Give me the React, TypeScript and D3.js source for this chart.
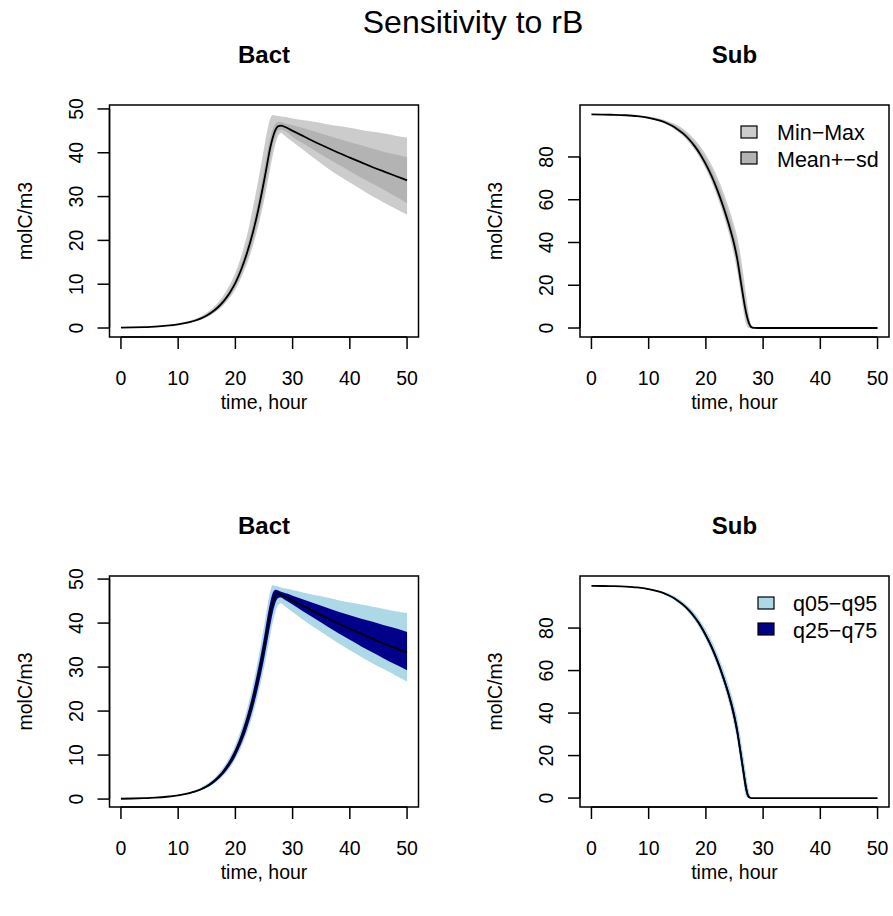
import React from "react";
import * as d3 from "d3";

const TIME = [0, 2, 4, 6, 8, 10, 12, 13, 14, 15, 16, 17, 18, 19, 20, 21, 22, 23, 24, 25, 25.5, 26, 26.5, 27, 27.5, 28, 28.5, 29, 30, 32, 34, 36, 38, 40, 42, 44, 46, 48, 50];

// Bact, top panel (Min-Max, Mean+-sd, mean)
const BACT_MEAN = [0.08, 0.13, 0.21, 0.33, 0.53, 0.85, 1.35, 1.72, 2.2, 2.85, 3.7, 4.8, 6.2, 8.0, 10.3, 13.3, 17.0, 21.5, 27.0, 33.5, 37.0, 40.6, 43.3, 45.2, 46.1, 46.2, 46.0, 45.7, 45.0, 43.7, 42.4, 41.2, 40.0, 38.9, 37.8, 36.7, 35.7, 34.7, 33.7];
const BACT_MAX = [0.10, 0.16, 0.25, 0.40, 0.64, 1.03, 1.65, 2.1, 2.7, 3.5, 4.5, 5.9, 7.6, 9.8, 12.6, 16.3, 21.0, 27.0, 33.8, 41.0, 44.6, 47.4, 48.6, 48.5, 48.4, 48.3, 48.2, 48.1, 47.8, 47.4, 47.0, 46.5, 46.1, 45.7, 45.2, 44.8, 44.4, 43.9, 43.5];
const BACT_MIN = [0.07, 0.11, 0.18, 0.29, 0.46, 0.74, 1.17, 1.48, 1.9, 2.45, 3.2, 4.1, 5.3, 6.9, 8.8, 11.4, 14.6, 18.5, 23.3, 29.0, 32.3, 35.8, 39.2, 42.0, 43.9, 44.5, 44.0, 43.5, 42.5, 40.5, 38.5, 36.6, 34.8, 33.2, 31.6, 30.0, 28.6, 27.2, 25.9];
const BACT_SD_HI = [0.09, 0.14, 0.23, 0.36, 0.58, 0.93, 1.5, 1.9, 2.4, 3.1, 4.05, 5.25, 6.8, 8.8, 11.3, 14.6, 18.6, 23.5, 29.3, 36.2, 39.8, 43.0, 45.3, 46.6, 47.1, 47.0, 46.8, 46.6, 46.3, 45.6, 44.8, 44.0, 43.2, 42.4, 41.7, 40.9, 40.2, 39.6, 39.0];
const BACT_SD_LO = [0.07, 0.12, 0.19, 0.30, 0.48, 0.78, 1.23, 1.56, 2.0, 2.6, 3.35, 4.35, 5.65, 7.3, 9.4, 12.1, 15.5, 19.6, 24.7, 30.8, 34.2, 37.8, 41.2, 43.7, 45.1, 45.3, 45.0, 44.7, 43.6, 42.0, 40.4, 38.8, 37.3, 35.8, 34.3, 32.9, 31.5, 30.0, 28.5];

// Bact, bottom panel (quantiles, median)
const BACT_MED = [0.08, 0.13, 0.21, 0.33, 0.53, 0.86, 1.37, 1.75, 2.23, 2.9, 3.75, 4.9, 6.3, 8.2, 10.6, 13.7, 17.5, 22.1, 27.8, 34.5, 38.2, 41.8, 44.6, 46.3, 46.7, 46.4, 46.1, 45.8, 45.1, 43.8, 42.5, 41.2, 39.9, 38.7, 37.6, 36.4, 35.3, 34.3, 33.3];
const BACT_Q95 = [0.10, 0.16, 0.25, 0.39, 0.63, 1.0, 1.62, 2.05, 2.65, 3.4, 4.4, 5.75, 7.4, 9.6, 12.3, 15.9, 20.3, 25.6, 32.0, 39.3, 43.2, 46.7, 48.6, 48.4, 48.3, 48.1, 47.9, 47.8, 47.5, 46.9, 46.3, 45.8, 45.2, 44.7, 44.2, 43.7, 43.2, 42.7, 42.3];
const BACT_Q75 = [0.09, 0.14, 0.23, 0.36, 0.58, 0.93, 1.5, 1.9, 2.42, 3.15, 4.1, 5.3, 6.9, 8.9, 11.5, 14.8, 18.9, 23.9, 29.9, 36.8, 40.7, 44.2, 46.8, 47.6, 47.4, 47.1, 46.9, 46.7, 46.2, 45.3, 44.4, 43.5, 42.6, 41.8, 41.0, 40.3, 39.5, 38.8, 38.0];
const BACT_Q25 = [0.075, 0.12, 0.19, 0.30, 0.49, 0.79, 1.26, 1.6, 2.05, 2.65, 3.45, 4.5, 5.8, 7.5, 9.7, 12.5, 16.0, 20.3, 25.6, 31.8, 35.3, 38.9, 42.2, 44.6, 45.7, 45.8, 45.4, 45.0, 44.2, 42.5, 40.9, 39.3, 37.7, 36.2, 34.7, 33.3, 31.9, 30.6, 29.3];
const BACT_Q05 = [0.07, 0.11, 0.18, 0.29, 0.46, 0.75, 1.19, 1.5, 1.93, 2.5, 3.25, 4.2, 5.45, 7.05, 9.1, 11.7, 15.0, 19.0, 24.0, 29.8, 33.1, 36.6, 40.0, 42.6, 44.1, 44.5, 44.0, 43.5, 42.5, 40.6, 38.8, 37.1, 35.4, 33.8, 32.3, 30.8, 29.5, 28.1, 26.7];

// Sub, top panel
const SUB_MEAN = [99.9, 99.8, 99.7, 99.5, 99.1, 98.3, 97.0, 96.0, 94.7, 93.0, 91.0, 88.4, 85.2, 81.3, 76.5, 71.0, 64.5, 57.0, 48.5, 38.5, 32.0, 23.5, 15.0, 7.5, 2.5, 0.3, 0.05, 0.02, 0.01, 0.01, 0.01, 0.01, 0.01, 0.01, 0.01, 0.01, 0.01, 0.01, 0.01];
const SUB_MAX = [99.9, 99.85, 99.78, 99.65, 99.4, 98.9, 97.9, 97.1, 96.1, 94.9, 93.2, 91.0, 88.3, 85.0, 81.0, 76.2, 70.5, 64.0, 56.3, 47.5, 42.3, 35.0, 26.0, 16.0, 6.5, 1.0, 0.1, 0.05, 0.02, 0.02, 0.02, 0.02, 0.02, 0.02, 0.02, 0.02, 0.02, 0.02, 0.02];
const SUB_MIN = [99.9, 99.75, 99.6, 99.4, 98.9, 98.0, 96.5, 95.4, 93.9, 92.0, 89.8, 86.9, 83.5, 79.3, 74.2, 68.3, 61.3, 53.3, 44.3, 33.0, 26.0, 17.5, 9.0, 2.0, 0, 0, 0, 0, 0, 0, 0, 0, 0, 0, 0, 0, 0, 0, 0];
const SUB_SD_HI = [99.9, 99.83, 99.75, 99.6, 99.28, 98.65, 97.5, 96.6, 95.45, 94.0, 92.15, 89.8, 86.9, 83.3, 79.0, 73.9, 67.9, 60.9, 52.8, 43.3, 37.5, 29.5, 20.5, 11.5, 4.2, 0.6, 0.08, 0.03, 0.01, 0.01, 0.01, 0.01, 0.01, 0.01, 0.01, 0.01, 0.01, 0.01, 0.01];
const SUB_SD_LO = [99.9, 99.78, 99.65, 99.45, 99.0, 98.15, 96.75, 95.7, 94.3, 92.5, 90.4, 87.65, 84.35, 80.3, 75.35, 69.65, 62.9, 55.15, 46.4, 35.75, 29.0, 20.5, 12.0, 4.75, 1.0, 0, 0, 0, 0, 0, 0, 0, 0, 0, 0, 0, 0, 0, 0];

// Sub, bottom panel
const SUB_MED = [99.9, 99.8, 99.7, 99.5, 99.1, 98.3, 97.0, 96.0, 94.7, 93.0, 91.0, 88.4, 85.2, 81.3, 76.5, 71.0, 64.5, 57.0, 48.5, 37.8, 31.0, 22.3, 13.5, 5.0, 0.5, 0.02, 0.01, 0.01, 0.01, 0.01, 0.01, 0.01, 0.01, 0.01, 0.01, 0.01, 0.01, 0.01, 0.01];
const SUB_Q95 = [99.9, 99.83, 99.74, 99.58, 99.28, 98.65, 97.6, 96.7, 95.6, 94.1, 92.3, 90.0, 87.2, 83.6, 79.2, 74.1, 68.0, 61.0, 53.0, 43.5, 37.5, 29.5, 21.0, 12.0, 3.5, 0.2, 0.01, 0.01, 0.01, 0.01, 0.01, 0.01, 0.01, 0.01, 0.01, 0.01, 0.01, 0.01, 0.01];
const SUB_Q75 = [99.9, 99.81, 99.71, 99.52, 99.15, 98.4, 97.2, 96.25, 95.0, 93.4, 91.5, 89.0, 85.9, 82.1, 77.5, 72.2, 65.9, 58.5, 50.2, 40.3, 33.8, 25.3, 16.5, 7.7, 1.4, 0.03, 0.01, 0.01, 0.01, 0.01, 0.01, 0.01, 0.01, 0.01, 0.01, 0.01, 0.01, 0.01, 0.01];
const SUB_Q25 = [99.9, 99.79, 99.69, 99.48, 99.05, 98.2, 96.85, 95.8, 94.45, 92.7, 90.6, 87.95, 84.65, 80.6, 75.7, 70.0, 63.4, 55.8, 47.1, 35.8, 28.7, 19.8, 11.0, 2.8, 0.1, 0, 0, 0, 0, 0, 0, 0, 0, 0, 0, 0, 0, 0, 0];
const SUB_Q05 = [99.9, 99.78, 99.67, 99.45, 99.0, 98.0, 96.6, 95.5, 94.0, 92.2, 90.0, 87.2, 83.8, 79.6, 74.6, 68.8, 62.0, 54.2, 45.2, 33.5, 26.5, 17.5, 8.5, 1.0, 0, 0, 0, 0, 0, 0, 0, 0, 0, 0, 0, 0, 0, 0, 0];

const X_TICKS = [0, 10, 20, 30, 40, 50];
const BACT_TICKS = [0, 10, 20, 30, 40, 50];
const SUB_TICKS = [0, 20, 40, 60, 80];

const LEGEND_RANGE = ["Min\u2212Max", "Mean+\u2212sd"];
const LEGEND_QUANT = ["q05\u2212q95", "q25\u2212q75"];
const COLS_RANGE = ["#CCCCCC", "#B3B3B3"];
const COLS_QUANT = ["#ADD8E6", "#00008B"];

const FONT = "'Liberation Sans', Arial, Helvetica, sans-serif";
const FS = 19.5;
const FS_LEG = 21.5;

type Band = { lo: number[]; hi: number[]; color: string };

function Panel(props: {
  left: number; top: number; right: number; bottom: number;
  yDomain: [number, number]; yTicks: number[]; title: string;
  bands: Band[]; line: number[];
  legend?: { labels: string[]; colors: string[]; boxX: number; textX: number };
}) {
  const { left, top, right, bottom, yDomain, yTicks, title, bands, line, legend } = props;
  const x = d3.scaleLinear().domain([-2, 52]).range([left, right]);
  const y = d3.scaleLinear().domain(yDomain).range([bottom, top]);
  const areaGen = (lo: number[], hi: number[]) =>
    d3.area<number>()
      .x((d) => x(d))
      .y0((_d, i) => y(lo[i]))
      .y1((_d, i) => y(hi[i]))
      .curve(d3.curveMonotoneX)(TIME) || "";
  const lineGen = d3.line<number>()
    .x((d) => x(d))
    .y((_d, i) => y(line[i]))
    .curve(d3.curveMonotoneX);
  const cx = (left + right) / 2;
  const cy = (top + bottom) / 2;
  const tl = 12;
  const cid = `clip-${Math.round(left)}-${Math.round(top)}`;
  return (
    <g>
      <defs>
        <clipPath id={cid}>
          <rect x={left} y={top} width={right - left} height={bottom - top} />
        </clipPath>
      </defs>
      <g clipPath={`url(#${cid})`}>
        {bands.map((b, k) => (
          <path key={k} d={areaGen(b.lo, b.hi)} fill={b.color} stroke="none" />
        ))}
        <path d={lineGen(TIME) || ""} fill="none" stroke="#000" strokeWidth={1.8} />
      </g>
      <rect x={left} y={top} width={right - left} height={bottom - top} fill="none" stroke="#000" strokeWidth={1.5} />
      {/* x axis */}
      <line x1={x(X_TICKS[0])} x2={x(X_TICKS[X_TICKS.length - 1])} y1={bottom} y2={bottom} stroke="#000" strokeWidth={1.5} />
      {X_TICKS.map((t) => (
        <g key={t}>
          <line x1={x(t)} x2={x(t)} y1={bottom} y2={bottom + tl} stroke="#000" strokeWidth={1.5} />
          <text x={x(t)} y={bottom + 48} textAnchor="middle" fontSize={FS} fontFamily={FONT}>{t}</text>
        </g>
      ))}
      {/* y axis */}
      <line x1={left} x2={left} y1={y(yTicks[0])} y2={y(yTicks[yTicks.length - 1])} stroke="#000" strokeWidth={1.5} />
      {yTicks.map((t) => (
        <g key={t}>
          <line x1={left - tl} x2={left} y1={y(t)} y2={y(t)} stroke="#000" strokeWidth={1.5} />
          <text transform={`translate(${left - 27},${y(t)}) rotate(-90)`} textAnchor="middle" fontSize={FS} fontFamily={FONT}>{t}</text>
        </g>
      ))}
      <text x={cx} y={top - 42} textAnchor="middle" fontSize={24} fontWeight="bold" fontFamily={FONT}>{title}</text>
      <text x={cx} y={bottom + 72} textAnchor="middle" fontSize={FS} fontFamily={FONT}>time, hour</text>
      <text transform={`translate(${left - 78},${cy}) rotate(-90)`} textAnchor="middle" fontSize={FS} fontFamily={FONT}>molC/m3</text>
      {legend && legend.labels.map((lab, k) => (
        <g key={lab}>
          <rect x={legend.boxX} y={top + 21 + k * 26} width={16} height={12} fill={legend.colors[k]} stroke="#000" strokeWidth={1.2} />
          <text x={legend.textX} y={top + 35 + k * 26.5} fontSize={FS_LEG} fontFamily={FONT}>{lab}</text>
        </g>
      ))}
    </g>
  );
}

export default function App() {
  return (
    <svg width={893} height={916} style={{ position: "absolute", left: 0, top: 0, background: "#fff" }}>
      <rect x={0} y={0} width={893} height={916} fill="#fff" />
      <text x={473} y={33} textAnchor="middle" fontSize={32} fontFamily={FONT}>Sensitivity to rB</text>
      <Panel left={109.5} top={105} right={418.5} bottom={337} yDomain={[-2.05, 50.9]} yTicks={BACT_TICKS} title="Bact"
        bands={[{ lo: BACT_MIN, hi: BACT_MAX, color: COLS_RANGE[0] }, { lo: BACT_SD_LO, hi: BACT_SD_HI, color: COLS_RANGE[1] }]}
        line={BACT_MEAN} />
      <Panel left={580} top={105} right={889} bottom={337} yDomain={[-4.2, 104.3]} yTicks={SUB_TICKS} title="Sub"
        bands={[{ lo: SUB_MIN, hi: SUB_MAX, color: COLS_RANGE[0] }, { lo: SUB_SD_LO, hi: SUB_SD_HI, color: COLS_RANGE[1] }]}
        line={SUB_MEAN}
        legend={{ labels: LEGEND_RANGE, colors: COLS_RANGE, boxX: 741, textX: 777 }} />
      <Panel left={109.5} top={576} right={418.5} bottom={807} yDomain={[-1.8, 50.7]} yTicks={BACT_TICKS} title="Bact"
        bands={[{ lo: BACT_Q05, hi: BACT_Q95, color: COLS_QUANT[0] }, { lo: BACT_Q25, hi: BACT_Q75, color: COLS_QUANT[1] }]}
        line={BACT_MED} />
      <Panel left={580} top={576} right={889} bottom={807} yDomain={[-4.2, 104.5]} yTicks={SUB_TICKS} title="Sub"
        bands={[{ lo: SUB_Q05, hi: SUB_Q95, color: COLS_QUANT[0] }, { lo: SUB_Q25, hi: SUB_Q75, color: COLS_QUANT[1] }]}
        line={SUB_MED}
        legend={{ labels: LEGEND_QUANT, colors: COLS_QUANT, boxX: 758, textX: 793 }} />
    </svg>
  );
}
